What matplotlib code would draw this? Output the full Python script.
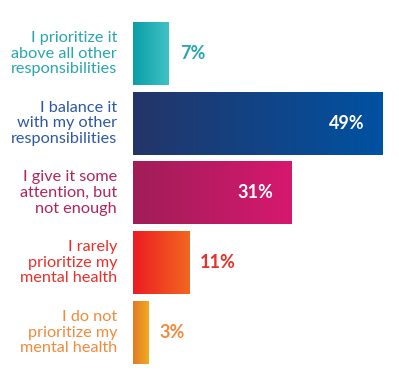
import numpy as np
import matplotlib
matplotlib.use('Agg')
import matplotlib.pyplot as plt
from matplotlib.colors import LinearSegmentedColormap
from matplotlib.transforms import offset_copy

# data
labels = ['I prioritize it\nabove all other\nresponsibilities',
          'I balance it\nwith my other\nresponsibilities',
          'I give it some\nattention, but\nnot enough',
          'I rarely\nprioritize my\nmental health',
          'I do not\nprioritize my\nmental health']
values = [7, 49, 31, 11, 3]

# gradient start/end colours per bar, and the text colour
grad_left = ['#0a9ea6', '#243568', '#a01e58', '#ec1c24', '#e07a28']
grad_right = ['#40c2c6', '#0052a2', '#d6186f', '#f3671f', '#f2aa1e']
text_colors = ['#28a6ae', '#2e58a6', '#b0245c', '#e8302a', '#f08a3c']
inside = [False, True, True, False, False]

plt.rcParams['font.family'] = ['Lato', 'DejaVu Sans']

fig = plt.figure(figsize=(3.99, 3.88), dpi=100)
ax = fig.add_axes([133 / 399, 0, 266 / 399, 1])
px_per_unit = 250 / 49
step = 69.75
ax.axis('off')

h = 0.9
grad = np.linspace(0, 1, 256).reshape(1, -1)
for i, v in enumerate(values):
    cmap = LinearSegmentedColormap.from_list('g%d' % i, [grad_left[i], grad_right[i]])
    ax.imshow(grad, cmap=cmap, aspect='auto', extent=[0, v, i + h / 2, i - h / 2],
              interpolation='bilinear', zorder=2)
    # label on the left
    tr = offset_copy(ax.transData, fig=fig, x=-16, y=0, units='dots')
    ax.text(0, i, labels[i], ha='right', va='center', transform=tr,
            color=text_colors[i], fontsize=11.7, linespacing=1.15, clip_on=False)
    # value
    if inside[i]:
        tr = offset_copy(ax.transData, fig=fig, x=-18, y=0, units='dots')
        ax.text(v, i, '%d%%' % v, ha='right', va='center', transform=tr,
                color='white', fontsize=13, fontweight='bold')
    else:
        tr = offset_copy(ax.transData, fig=fig, x=11, y=0, units='dots')
        ax.text(v, i, '%d%%' % v, ha='left', va='center', transform=tr,
                color=text_colors[i], fontsize=13, fontweight='bold')

ax.set_xlim(0, 266 / px_per_unit)
ax.set_ylim((388 - 53.5) / step, -53.5 / step)

plt.savefig('out.png', dpi=100)
